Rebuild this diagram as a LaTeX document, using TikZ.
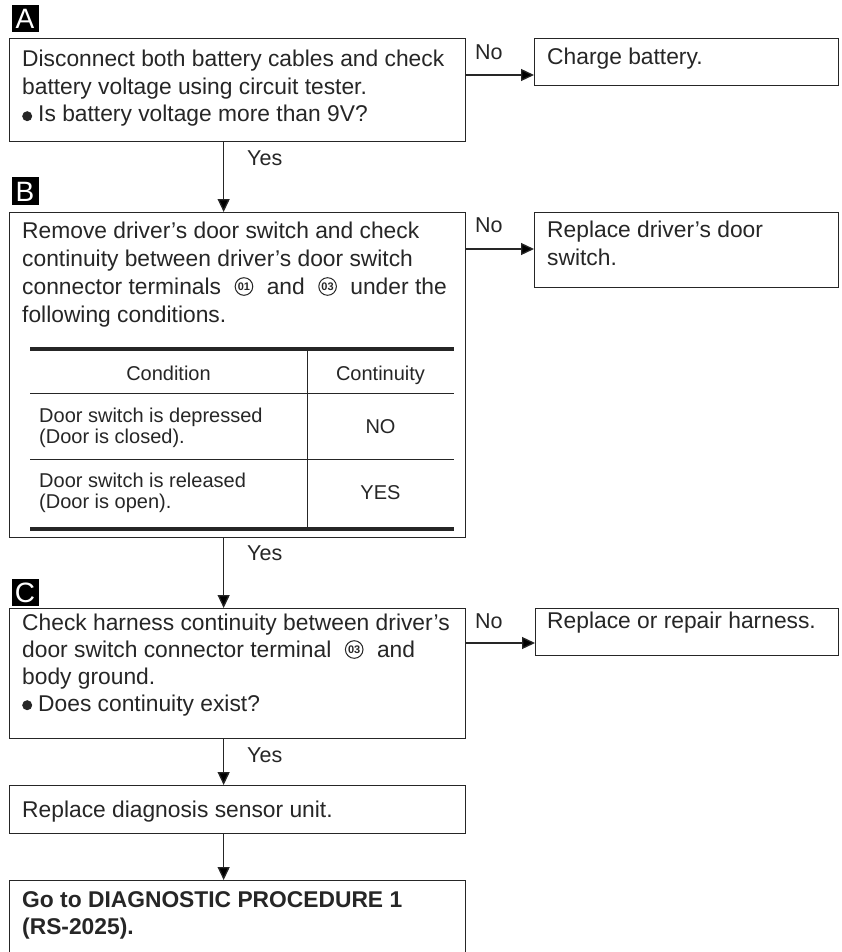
\documentclass[tikz,border=0pt]{standalone}
\usepackage{fontspec}
\setmainfont{Liberation Sans}
\usetikzlibrary{arrows.meta}
\definecolor{ink}{HTML}{262626}
\newcommand{\bul}{\tikz[x=1pt,y=1pt,baseline=0pt]\fill[ink] (5,5.8) circle (5);\hspace{6pt}}
\newcommand{\cnum}[1]{\tikz[x=1pt,y=1pt,baseline=-7.5pt]{\draw[ink,line width=1pt] (0,0) circle (8.8);\node[anchor=center,inner sep=0pt,outer sep=0pt,align=center,text=ink,font=\fontsize{11}{11}\selectfont\bfseries] at (0,0) {#1};}}
\newcommand{\gapc}{\hspace{13.5pt}}
\begin{document}
\begin{tikzpicture}[x=1pt,y=-1pt,
  box/.style n args={2}{draw=ink, line width=1.3pt, anchor=north west, inner sep=0pt, minimum width=#1, minimum height=#2},
  txt/.style={anchor=base west, inner sep=0pt, align=left, text=ink, font=\fontsize{22.8}{27.5}\selectfont},
  btxt/.style={txt, font=\fontsize{22.8}{27}\selectfont\bfseries},
  lab/.style={fill=black, text=white, minimum width=27pt, minimum height=27pt, inner sep=0pt, text height=20pt, text depth=0pt, font=\fontsize{28}{28}\selectfont},
  arr/.style={draw=ink, line width=1.3pt, -{Triangle[length=13pt,width=12pt]}},
  yn/.style={anchor=base west, inner sep=0pt, text=ink, font=\fontsize{21.5}{22}\selectfont},
  tab/.style={inner sep=0pt, text=ink, font=\fontsize{20}{21}\selectfont},
  thick rule/.style={draw=ink, line width=3.3pt},
  thin rule/.style={draw=ink, line width=1pt}]
\useasboundingbox (0,0) rectangle (842,952);
\clip (0,0) rectangle (842,952);
\fill[white] (0,0) rectangle (842,952);

% ---------- A ----------
\node[lab] (labA) at (25,18.5) {A};
\node[box={456pt}{103pt}] (boxA) at (9,38) {};
\node[txt] (tA) at (22,122) {Disconnect both battery cables and check\\battery voltage using circuit tester.\\\bul Is battery voltage more than 9V?};
\node[box={304pt}{47pt}] (charge) at (534,38) {};
\node[txt] (tCh) at (547,65) {Charge battery.};
\coordinate (a1) at ([yshift=-37pt]boxA.north east);
\draw[arr] (a1) -- (a1 -| charge.west);
\node[yn] (noA) at (475,60) {No};

% ---------- B ----------
\node[lab] (labB) at (25,191) {B};
\node[box={456pt}{325pt}] (boxB) at (9,212) {};
\draw[arr] ([xshift=-14pt]boxA.south) -- ([xshift=-14pt]boxB.north);
\node[yn] (yesA) at (247,165) {Yes};
\node[txt, font=\fontsize{22.8}{28}\selectfont] (tB) at (22,322) {Remove driver’s door switch and check\\continuity between driver’s door switch\\connector terminals\gapc\cnum{01}\gapc and\gapc\cnum{03}\gapc under the\\following conditions.};
\node[box={304pt}{75pt}] (repsw) at (534,212) {};
\node[txt, font=\fontsize{22.8}{28}\selectfont] (tRs) at (547,265) {Replace driver’s door\\switch.};
\coordinate (b1) at ([yshift=-37pt]boxB.north east);
\draw[arr] (b1) -- (b1 -| repsw.west);
\node[yn] (noB) at (475,232) {No};

% table
\draw[thick rule] (30,349) -- (454,349);
\draw[thin rule] (30,393) -- (454,393);
\draw[thin rule] (30,459) -- (454,459);
\draw[thick rule] (30,529) -- (454,529);
\draw[thin rule] (307,349) -- (307,529);
\node[tab, anchor=base] (h1) at (168.5,380) {Condition};
\node[tab, anchor=base] (h2) at (380.5,380) {Continuity};
\node[tab, anchor=base west, align=left] (r1) at (39,443) {Door switch is depressed\\(Door is closed).};
\node[tab, anchor=base] (r1v) at (380.5,433) {NO};
\node[tab, anchor=base west, align=left] (r2) at (39,508) {Door switch is released\\(Door is open).};
\node[tab, anchor=base] (r2v) at (380.5,499) {YES};

% ---------- C ----------
\node[lab] (labC) at (25,592) {C};
\node[box={456pt}{130pt}] (boxC) at (9,608) {};
\draw[arr] ([xshift=-14pt]boxB.south) -- ([xshift=-14pt]boxC.north);
\node[yn] (yesB) at (247,560) {Yes};
\node[txt, font=\fontsize{22.8}{27}\selectfont] (tC) at (22,711) {Check harness continuity between driver’s\\door switch connector terminal\gapc\cnum{03}\gapc and\\body ground.\\\bul Does continuity exist?};
\node[box={303pt}{47pt}] (harn) at (535,608) {};
\node[txt] (tH) at (547,628) {Replace or repair harness.};
\coordinate (c1) at ([yshift=-35pt]boxC.north east);
\draw[arr] (c1) -- (c1 -| harn.west);
\node[yn] (noC) at (475,628) {No};

% ---------- D ----------
\node[box={456pt}{48pt}] (boxD) at (9,785) {};
\draw[arr] ([xshift=-14pt]boxC.south) -- ([xshift=-14pt]boxD.north);
\node[yn] (yesC) at (247,762) {Yes};
\node[txt] (tD) at (22,817) {Replace diagnosis sensor unit.};

% ---------- E ----------
\node[box={456pt}{90pt}] (boxE) at (9,880) {};
\draw[arr] ([xshift=-14pt]boxD.south) -- ([xshift=-14pt]boxE.north);
\node[btxt] (tE) at (22,934) {Go to DIAGNOSTIC PROCEDURE 1\\(RS-2025).};
\end{tikzpicture}
\end{document}
